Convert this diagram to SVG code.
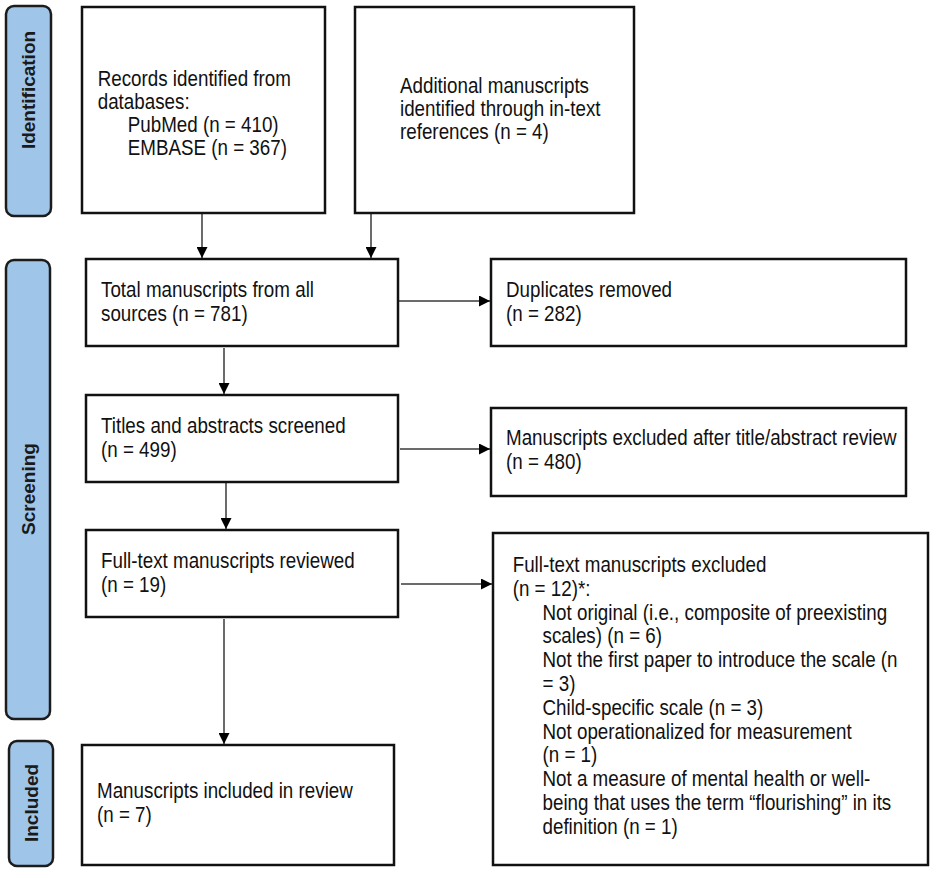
<svg xmlns="http://www.w3.org/2000/svg" width="935" height="876" viewBox="0 0 935 876">
<style>
.bg{fill:#ffffff}
.box{fill:#ffffff;stroke:#111111;stroke-width:2.5}
.phase{fill:#9fc5e8;stroke:#1c1c1c;stroke-width:2.5}
.pt{font-family:"Liberation Sans",Arial,sans-serif;font-weight:bold;font-size:19px;fill:#1a1a1a;text-anchor:middle;dominant-baseline:central}
.t{font-family:"Liberation Sans",Arial,sans-serif;font-size:18.8px;fill:#111111}
.c{stroke:#3a3a3a;stroke-width:1.5;fill:none;marker-end:url(#ah)}
</style>
<defs>
<marker id="ah" markerUnits="userSpaceOnUse" markerWidth="11" markerHeight="11" refX="11" refY="5.5" orient="auto">
<path d="M0,0 L11,5.5 L0,11 z" fill="#000000"/>
</marker>
</defs>
<rect class="bg" x="0" y="0" width="935" height="876"/>

<g id="phase-identification">
<rect class="phase" x="6" y="6" width="45" height="210" rx="8"/>
<text class="pt" transform="translate(28.5,90) rotate(-90)">Identification</text>
</g>
<g id="phase-screening">
<rect class="phase" x="6" y="260" width="44" height="459" rx="8"/>
<text class="pt" transform="translate(28,489) rotate(-90)">Screening</text>
</g>
<g id="phase-included">
<rect class="phase" x="9" y="741" width="44" height="125" rx="8"/>
<text class="pt" transform="translate(31,803) rotate(-90)">Included</text>
</g>

<g id="connectors">
<line class="c" x1="202" y1="214" x2="202" y2="258"/>
<line class="c" x1="371" y1="214" x2="371" y2="258"/>
<line class="c" x1="399" y1="301" x2="490" y2="301"/>
<line class="c" x1="224" y1="348" x2="224" y2="394"/>
<line class="c" x1="400" y1="449" x2="490" y2="449"/>
<line class="c" x1="226" y1="483" x2="226" y2="529"/>
<line class="c" x1="401" y1="584" x2="492" y2="584"/>
<line class="c" x1="224" y1="619" x2="224" y2="744"/>
</g>

<g id="records">
<rect class="box" x="82" y="7" width="243" height="206"/>
<text class="t" transform="translate(97.7,85.5) scale(1,1.18)">Records identified from</text>
<text class="t" transform="translate(97.7,108.5) scale(1,1.18)">databases:</text>
<text class="t" transform="translate(127.7,131.5) scale(1,1.18)">PubMed (n = 410)</text>
<text class="t" transform="translate(127.7,154.5) scale(1,1.18)">EMBASE (n = 367)</text>
</g>

<g id="additional">
<rect class="box" x="355" y="7" width="279" height="206"/>
<text class="t" transform="translate(400,93) scale(1,1.18)">Additional manuscripts</text>
<text class="t" transform="translate(400,116) scale(1,1.18)">identified through in-text</text>
<text class="t" transform="translate(400,139) scale(1,1.18)">references (n = 4)</text>
</g>

<g id="total">
<rect class="box" x="86" y="259" width="312" height="87"/>
<text class="t" transform="translate(101,297) scale(1,1.18)">Total manuscripts from all</text>
<text class="t" transform="translate(101,320.5) scale(1,1.18)">sources (n = 781)</text>
</g>

<g id="duplicates">
<rect class="box" x="491" y="259" width="415" height="87"/>
<text class="t" transform="translate(506,297) scale(1,1.18)">Duplicates removed</text>
<text class="t" transform="translate(506,320.5) scale(1,1.18)">(n = 282)</text>
</g>

<g id="titles">
<rect class="box" x="86" y="395" width="312" height="87"/>
<text class="t" transform="translate(101,433) scale(1,1.18)">Titles and abstracts screened</text>
<text class="t" transform="translate(101,456.5) scale(1,1.18)">(n = 499)</text>
</g>

<g id="excluded-title">
<rect class="box" x="491" y="408" width="415" height="88"/>
<text class="t" transform="translate(506,445) scale(1,1.18)">Manuscripts excluded after title/abstract review</text>
<text class="t" transform="translate(506,468.5) scale(1,1.18)">(n = 480)</text>
</g>

<g id="fulltext">
<rect class="box" x="86" y="530" width="312" height="87"/>
<text class="t" transform="translate(101,568) scale(1,1.18)">Full-text manuscripts reviewed</text>
<text class="t" transform="translate(101,591.5) scale(1,1.18)">(n = 19)</text>
</g>

<g id="excluded-fulltext">
<rect class="box" x="493" y="533" width="435" height="332"/>
<text class="t" transform="translate(512.7,572) scale(1,1.18)">Full-text manuscripts excluded</text>
<text class="t" transform="translate(512.7,595.8) scale(1,1.18)">(n = 12)*:</text>
<text class="t" transform="translate(542.5,619.6) scale(1,1.18)">Not original (i.e., composite of preexisting</text>
<text class="t" transform="translate(542.5,643.4) scale(1,1.18)">scales) (n = 6)</text>
<text class="t" transform="translate(542.5,667.2) scale(1,1.18)">Not the first paper to introduce the scale (n</text>
<text class="t" transform="translate(542.5,691) scale(1,1.18)">= 3)</text>
<text class="t" transform="translate(542.5,714.8) scale(1,1.18)">Child-specific scale (n = 3)</text>
<text class="t" transform="translate(542.5,738.6) scale(1,1.18)">Not operationalized for measurement</text>
<text class="t" transform="translate(542.5,762.4) scale(1,1.18)">(n = 1)</text>
<text class="t" transform="translate(542.5,786.2) scale(1,1.18)">Not a measure of mental health or well-</text>
<text class="t" transform="translate(542.5,810) scale(1,1.18)">being that uses the term “flourishing” in its</text>
<text class="t" transform="translate(542.5,833.8) scale(1,1.18)">definition (n = 1)</text>
</g>

<g id="included">
<rect class="box" x="82" y="745" width="312" height="120"/>
<text class="t" transform="translate(97,798) scale(1,1.18)">Manuscripts included in review</text>
<text class="t" transform="translate(97,821.5) scale(1,1.18)">(n = 7)</text>
</g>
</svg>
